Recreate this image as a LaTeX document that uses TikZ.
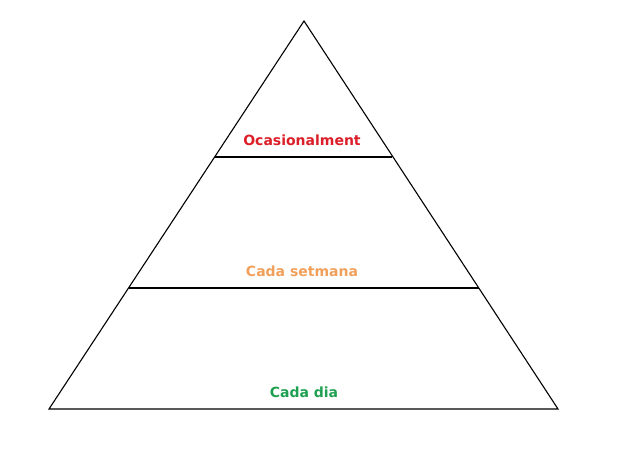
\documentclass[tikz,border=0pt]{standalone}
\usepackage{fontspec}
\setmainfont{DejaVu Sans}
\definecolor{cred}{RGB}{220,30,40}
\definecolor{corange}{RGB}{240,160,90}
\definecolor{cgreen}{RGB}{30,160,80}
\begin{document}
\begin{tikzpicture}[x=1pt,y=-1pt,
  lbl/.style={font=\bfseries\fontsize{14}{16}\selectfont, inner sep=0pt, anchor=center},
  edge/.style={draw=black, line width=1.1pt}]
\useasboundingbox (0,0) rectangle (617,450);
\fill[white] (0,0) rectangle (617,450);
\coordinate (apex) at (304,21);
\coordinate (bl) at (49,409);
\coordinate (br) at (558,409);
\coordinate (l1) at (214.6,157);
\coordinate (r1) at (392.4,157);
\coordinate (l2) at (128.5,288);
\coordinate (r2) at (478.5,288);
\draw[edge, line join=miter] (apex) -- (br) -- (bl) -- cycle;
\draw[edge] (l1) -- (r1);
\draw[edge] (l2) -- (r2);
\node[lbl, text=cred] (t1) at (302,140) {Ocasionalment};
\node[lbl, text=corange] (t2) at (302,271) {Cada setmana};
\node[lbl, text=cgreen] (t3) at (304,392) {Cada dia};
\end{tikzpicture}
\end{document}
